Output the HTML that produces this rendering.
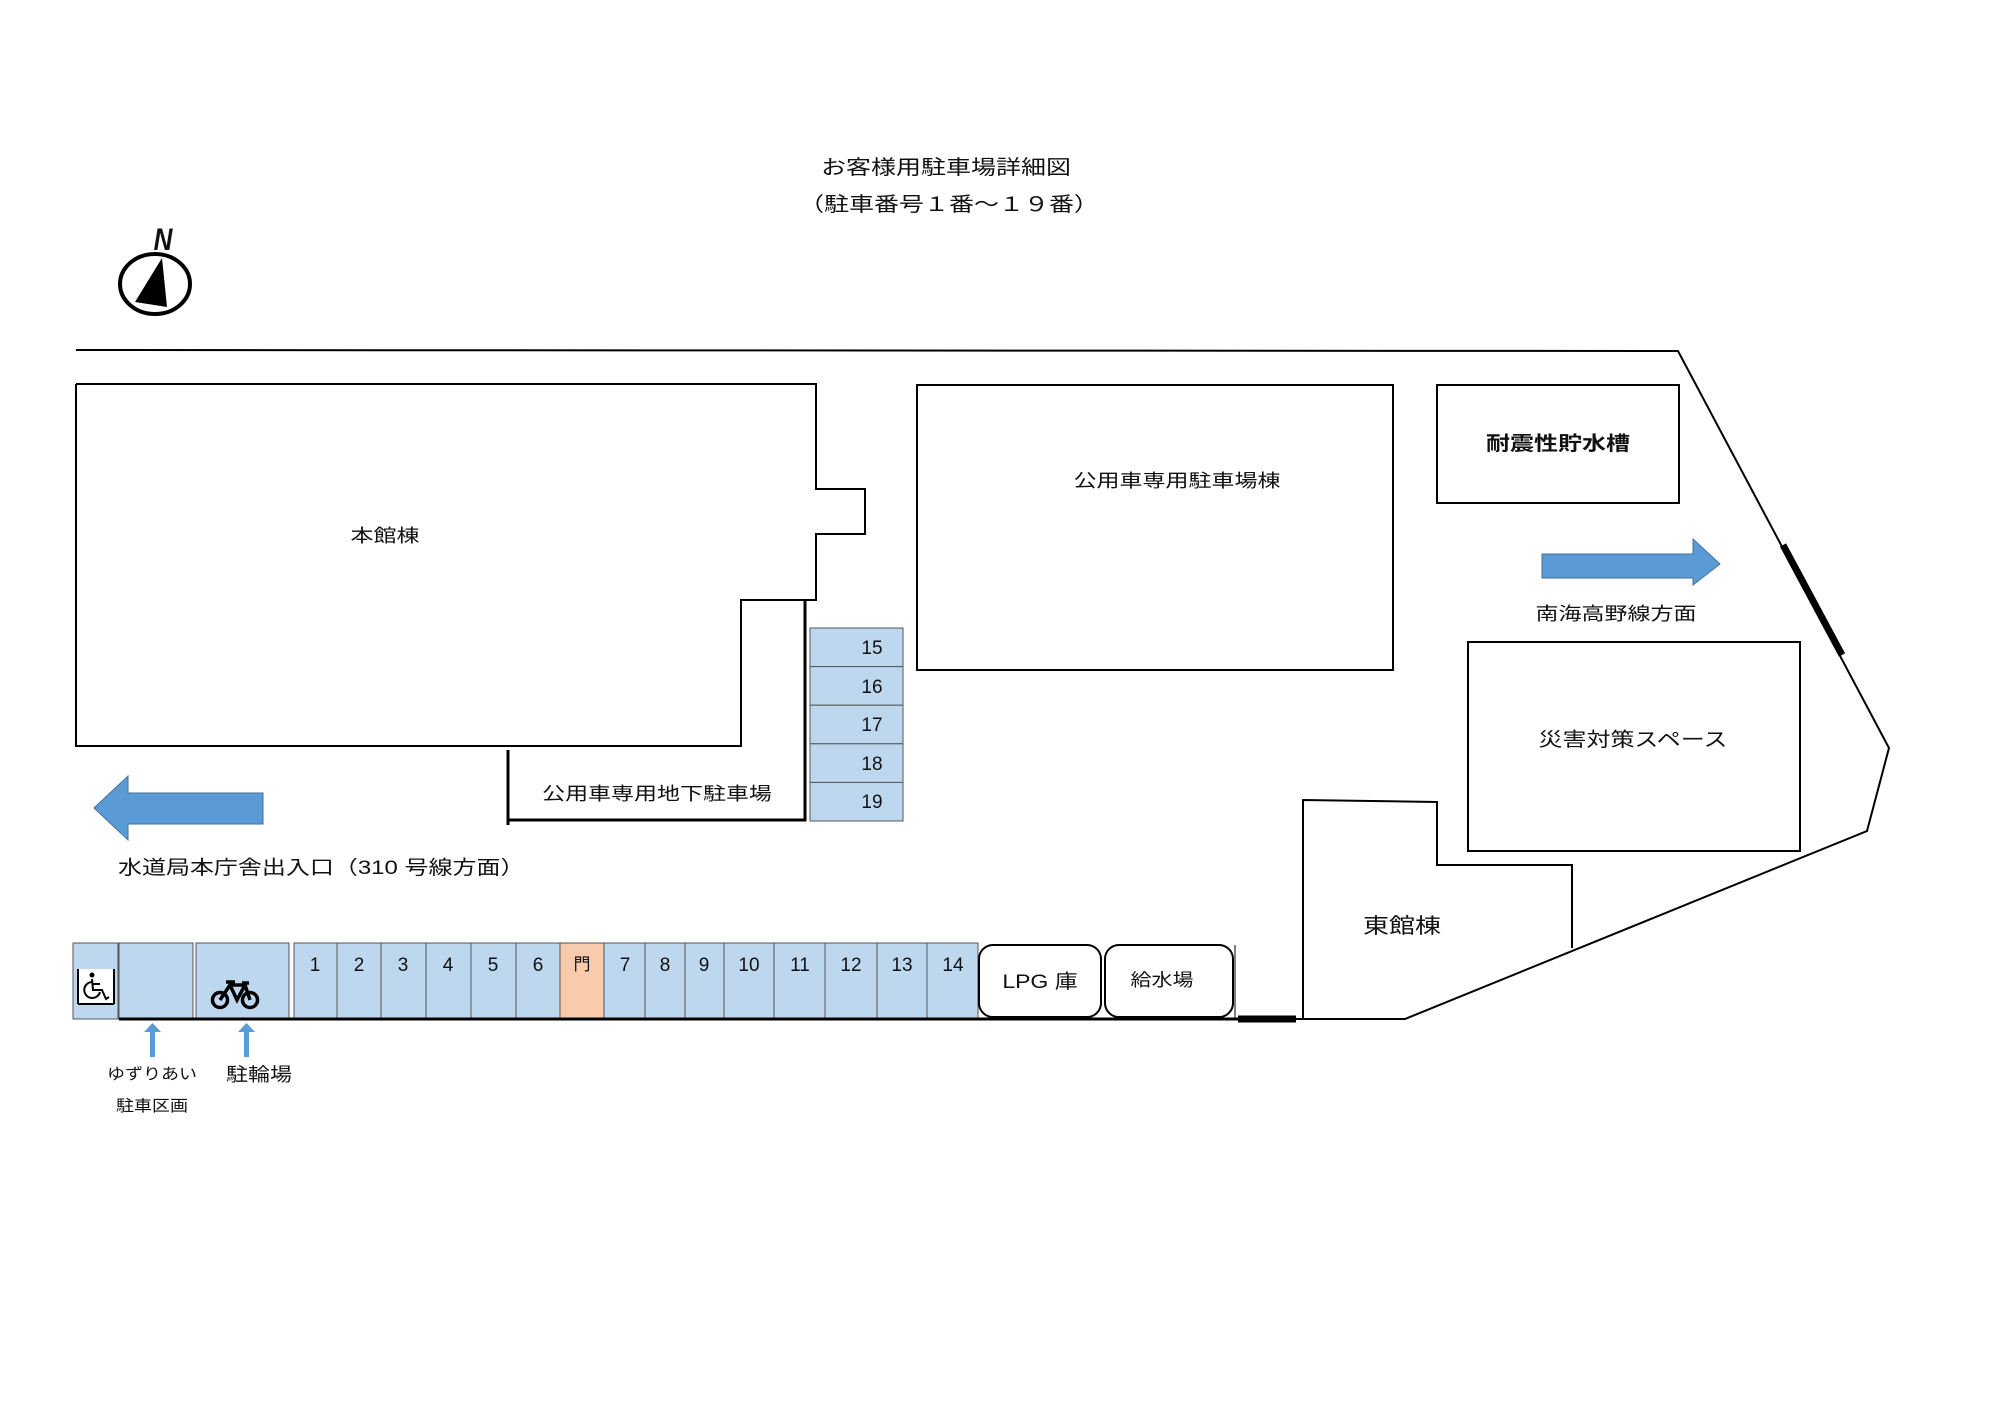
<!DOCTYPE html>
<html><head><meta charset="utf-8"><style>
html,body{margin:0;padding:0;background:#fff;}
svg{display:block;}
text{font-family:"Liberation Sans","Noto Sans CJK JP",sans-serif;fill:#111;}
</style></head><body>
<svg width="2000" height="1413" viewBox="0 0 2000 1413" xmlns="http://www.w3.org/2000/svg">
<rect width="2000" height="1413" fill="#fff"/>
<!-- title -->
<g transform="translate(946,174) scale(1,0.8)"><text x="0" y="0" font-size="25" text-anchor="middle">お客様用駐車場詳細図</text></g>
<g transform="translate(949,211) scale(1,0.8)"><text x="0" y="0" font-size="25" text-anchor="middle">（駐車番号１番～１９番）</text></g>
<!-- compass -->
<ellipse cx="155" cy="284" rx="35" ry="30" fill="none" stroke="#000" stroke-width="4"/>
<polygon points="162,258 135,302 167,307" fill="#000"/>
<g transform="translate(163,250) scale(1,1.2)"><text x="0" y="0" font-size="26" font-weight="bold" font-style="italic" text-anchor="middle">N</text></g>
<!-- boundary -->
<g fill="none" stroke="#000" stroke-width="2">
<polyline points="76,350 1678,351 1889,748 1867,831 1405,1019 1296,1019"/>
<polyline points="76,384 816,384 816,489 865,489 865,534 816,534 816,600 741,600 741,746 76,746 76,384"/>
<rect x="917" y="385" width="476" height="285"/>
<rect x="1437" y="385" width="242" height="118"/>
<rect x="1468" y="642" width="332" height="209"/>
<polyline points="1303,1019 1303,800 1437,802 1437,865 1572,865 1572,948"/>
</g>
<g fill="none" stroke="#000" stroke-width="3">
<polyline points="508,750 508,825"/>
<polyline points="508,820 805,820 805,601"/>
</g>
<g stroke="#555" stroke-width="1" fill="#bdd7ee">
<rect x="810" y="628" width="93" height="38.6"/>
<rect x="810" y="666.6" width="93" height="38.6"/>
<rect x="810" y="705.2" width="93" height="38.6"/>
<rect x="810" y="743.8" width="93" height="38.6"/>
<rect x="810" y="782.4" width="93" height="38.6"/>
</g>
<g font-size="19">
<text x="872" y="654" text-anchor="middle">15</text>
<text x="872" y="693" text-anchor="middle">16</text>
<text x="872" y="731" text-anchor="middle">17</text>
<text x="872" y="770" text-anchor="middle">18</text>
<text x="872" y="808" text-anchor="middle">19</text>
</g>
<g transform="translate(385,542) scale(1,0.8)"><text font-size="23" text-anchor="middle">本館棟</text></g>
<g transform="translate(657,800) scale(1,0.8)"><text font-size="23" text-anchor="middle">公用車専用地下駐車場</text></g>
<g transform="translate(1177,487) scale(1,0.8)"><text font-size="23" text-anchor="middle">公用車専用駐車場棟</text></g>
<g transform="translate(1558,450) scale(1,0.8)"><text font-size="24" text-anchor="middle" font-weight="bold">耐震性貯水槽</text></g>
<g transform="translate(1616,620) scale(1,0.8)"><text font-size="23" text-anchor="middle">南海高野線方面</text></g>
<g transform="translate(1633,746) scale(1,0.8)"><text font-size="24" text-anchor="middle">災害対策スペース</text></g>
<g transform="translate(1402,933) scale(1,0.8)"><text font-size="26" text-anchor="middle">東館棟</text></g>
<g transform="translate(118,874) scale(1,0.8)"><text font-size="24">水道局本庁舎出入口（310 号線方面）</text></g>
<polygon points="94,808 128,776 128,793 263,793 263,824 128,824 128,840" fill="#5b9bd5" stroke="#41719c" stroke-width="1"/>
<polygon points="1720,564 1693,539 1693,554 1542,554 1542,578 1693,578 1693,585" fill="#5b9bd5" stroke="#41719c" stroke-width="1"/>
<line x1="1783" y1="545" x2="1842" y2="655" stroke="#000" stroke-width="7"/>
<line x1="1238" y1="1019" x2="1296" y2="1019" stroke="#000" stroke-width="7"/>
<g stroke="#555" stroke-width="1" fill="#bdd7ee">
<rect x="73" y="943" width="45" height="76"/>
<rect x="119" y="943" width="74" height="76"/>
<rect x="196" y="943" width="93" height="76"/>
<rect x="294" y="943" width="43" height="76"/>
<rect x="337" y="943" width="44" height="76"/>
<rect x="381" y="943" width="45" height="76"/>
<rect x="426" y="943" width="45" height="76"/>
<rect x="471" y="943" width="45" height="76"/>
<rect x="516" y="943" width="44" height="76"/>
<rect x="560" y="943" width="44" height="76" fill="#f8cbad"/>
<rect x="604" y="943" width="41" height="76"/>
<rect x="645" y="943" width="40" height="76"/>
<rect x="685" y="943" width="39" height="76"/>
<rect x="724" y="943" width="50" height="76"/>
<rect x="774" y="943" width="51" height="76"/>
<rect x="825" y="943" width="52" height="76"/>
<rect x="877" y="943" width="50" height="76"/>
<rect x="927" y="943" width="51" height="76"/>
</g>
<line x1="119" y1="1019" x2="1238" y2="1019" stroke="#000" stroke-width="3"/>
<!-- wheelchair icon -->
<rect x="77" y="969" width="38" height="35" fill="#fff"/>
<g fill="none" stroke="#000" stroke-width="2">
<line x1="78" y1="969" x2="78" y2="1004"/><line x1="114" y1="969" x2="114" y2="1004"/><line x1="78" y1="1004" x2="114" y2="1004"/>
<path d="M92 982 a8 8 0 1 0 8 10"/>
<polyline points="92,979 93,990 102,990 106,999 109,997"/>
<line x1="93" y1="984" x2="100" y2="984"/>
</g>
<circle cx="92" cy="975" r="2.5" fill="#000"/>
<g fill="none" stroke="#000" stroke-width="3.5">
<circle cx="220" cy="1000" r="7.5"/><circle cx="250" cy="1000" r="7.5"/>
<polyline points="220,1000 230,985 245,985 250,1000"/><polyline points="230,985 237,1000 245,985"/>
<line x1="226" y1="982" x2="235" y2="982"/><line x1="242" y1="983" x2="249" y2="983"/>
</g>
<g font-size="19" text-anchor="middle">
<text x="315" y="971">1</text><text x="359" y="971">2</text><text x="403" y="971">3</text>
<text x="448" y="971">4</text><text x="493" y="971">5</text><text x="538" y="971">6</text>
<text x="582" y="970" font-size="17">門</text>
<text x="625" y="971">7</text><text x="665" y="971">8</text><text x="704" y="971">9</text>
<text x="749" y="971">10</text><text x="800" y="971">11</text><text x="851" y="971">12</text>
<text x="902" y="971">13</text><text x="953" y="971">14</text>
</g>
<rect x="979" y="945" width="122" height="72" rx="14" fill="#fff" stroke="#000" stroke-width="2"/>
<rect x="1105" y="945" width="128" height="72" rx="14" fill="#fff" stroke="#000" stroke-width="2"/>
<line x1="1235" y1="945" x2="1235" y2="1019" stroke="#000" stroke-width="1"/>
<g transform="translate(1040,988) scale(1,0.85)"><text font-size="23" text-anchor="middle">LPG 庫</text></g>
<g transform="translate(1162,986) scale(1,0.85)"><text font-size="21" text-anchor="middle">給水場</text></g>
<g fill="#5b9bd5">
<rect x="150" y="1030" width="5" height="27"/><polygon points="144,1032 152.5,1023 161,1032"/>
<rect x="244" y="1030" width="5" height="27"/><polygon points="238,1032 246.5,1023 255,1032"/>
</g>
<g transform="translate(152,1079) scale(1,0.85)"><text font-size="18" text-anchor="middle">ゆずりあい</text></g>
<g transform="translate(152,1111) scale(1,0.85)"><text font-size="18" text-anchor="middle">駐車区画</text></g>
<g transform="translate(259,1081) scale(1,0.85)"><text font-size="22" text-anchor="middle">駐輪場</text></g>
</svg>
</body></html>
